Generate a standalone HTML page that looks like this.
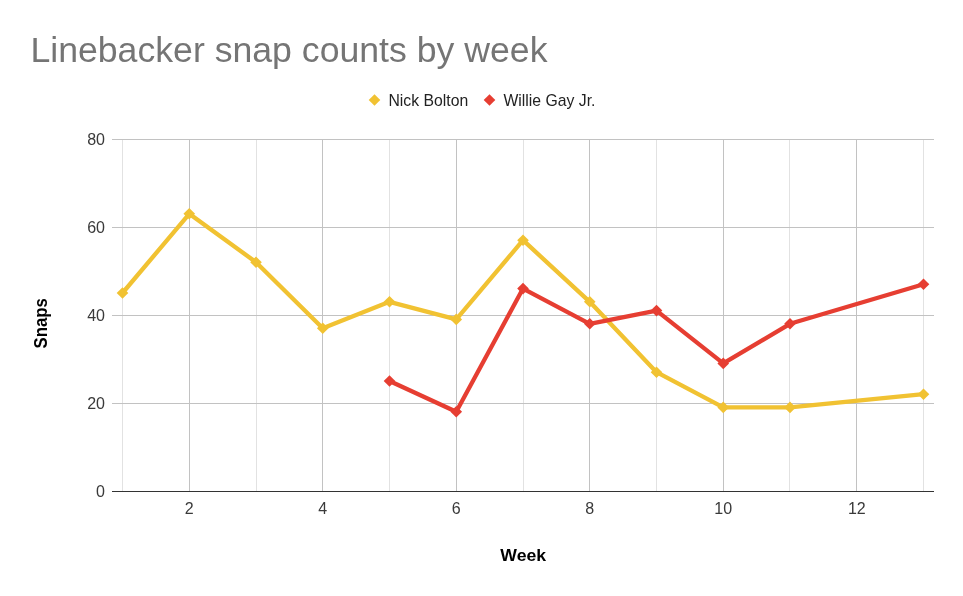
<!DOCTYPE html>
<html><head><meta charset="utf-8"><title>Linebacker snap counts by week</title>
<style>
html,body{margin:0;padding:0;background:#fff;}
svg{display:block;font-family:"Liberation Sans",Arial,sans-serif;}
</style></head><body>
<svg width="963" height="596" viewBox="0 0 963 596">
<rect width="963" height="596" fill="#ffffff"/>
<g shape-rendering="crispEdges">
<rect x="122" y="139" width="1" height="352" fill="#e2e2e2"/>
<rect x="189" y="139" width="1" height="352" fill="#c2c2c2"/>
<rect x="256" y="139" width="1" height="352" fill="#e2e2e2"/>
<rect x="322" y="139" width="1" height="352" fill="#c2c2c2"/>
<rect x="389" y="139" width="1" height="352" fill="#e2e2e2"/>
<rect x="456" y="139" width="1" height="352" fill="#c2c2c2"/>
<rect x="523" y="139" width="1" height="352" fill="#e2e2e2"/>
<rect x="589" y="139" width="1" height="352" fill="#c2c2c2"/>
<rect x="656" y="139" width="1" height="352" fill="#e2e2e2"/>
<rect x="723" y="139" width="1" height="352" fill="#c2c2c2"/>
<rect x="789" y="139" width="1" height="352" fill="#e2e2e2"/>
<rect x="856" y="139" width="1" height="352" fill="#c2c2c2"/>
<rect x="923" y="139" width="1" height="352" fill="#e2e2e2"/>
<rect x="112" y="403" width="822" height="1" fill="#c2c2c2"/>
<rect x="112" y="315" width="822" height="1" fill="#c2c2c2"/>
<rect x="112" y="227" width="822" height="1" fill="#c2c2c2"/>
<rect x="112" y="139" width="822" height="1" fill="#c2c2c2"/>
<rect x="112" y="491" width="822" height="1" fill="#333333"/>
</g>
<polyline points="122.50,293.00 189.25,213.80 256.00,262.20 322.75,328.20 389.50,301.80 456.25,319.40 523.00,240.20 589.75,301.80 656.50,372.20 723.25,407.40 790.00,407.40 923.50,394.20" fill="none" stroke="#f1c232" stroke-width="4.3" stroke-linejoin="round" stroke-linecap="round"/>
<path d="M122.50,287.20L128.30,293.00L122.50,298.80L116.70,293.00Z" fill="#f1c232"/>
<path d="M189.25,208.00L195.05,213.80L189.25,219.60L183.45,213.80Z" fill="#f1c232"/>
<path d="M256.00,256.40L261.80,262.20L256.00,268.00L250.20,262.20Z" fill="#f1c232"/>
<path d="M322.75,322.40L328.55,328.20L322.75,334.00L316.95,328.20Z" fill="#f1c232"/>
<path d="M389.50,296.00L395.30,301.80L389.50,307.60L383.70,301.80Z" fill="#f1c232"/>
<path d="M456.25,313.60L462.05,319.40L456.25,325.20L450.45,319.40Z" fill="#f1c232"/>
<path d="M523.00,234.40L528.80,240.20L523.00,246.00L517.20,240.20Z" fill="#f1c232"/>
<path d="M589.75,296.00L595.55,301.80L589.75,307.60L583.95,301.80Z" fill="#f1c232"/>
<path d="M656.50,366.40L662.30,372.20L656.50,378.00L650.70,372.20Z" fill="#f1c232"/>
<path d="M723.25,401.60L729.05,407.40L723.25,413.20L717.45,407.40Z" fill="#f1c232"/>
<path d="M790.00,401.60L795.80,407.40L790.00,413.20L784.20,407.40Z" fill="#f1c232"/>
<path d="M923.50,388.40L929.30,394.20L923.50,400.00L917.70,394.20Z" fill="#f1c232"/>
<polyline points="389.50,381.00 456.25,411.80 523.00,288.60 589.75,323.80 656.50,310.60 723.25,363.40 790.00,323.80 923.50,284.20" fill="none" stroke="#e63e32" stroke-width="4.3" stroke-linejoin="round" stroke-linecap="round"/>
<path d="M389.50,375.20L395.30,381.00L389.50,386.80L383.70,381.00Z" fill="#e63e32"/>
<path d="M456.25,406.00L462.05,411.80L456.25,417.60L450.45,411.80Z" fill="#e63e32"/>
<path d="M523.00,282.80L528.80,288.60L523.00,294.40L517.20,288.60Z" fill="#e63e32"/>
<path d="M589.75,318.00L595.55,323.80L589.75,329.60L583.95,323.80Z" fill="#e63e32"/>
<path d="M656.50,304.80L662.30,310.60L656.50,316.40L650.70,310.60Z" fill="#e63e32"/>
<path d="M723.25,357.60L729.05,363.40L723.25,369.20L717.45,363.40Z" fill="#e63e32"/>
<path d="M790.00,318.00L795.80,323.80L790.00,329.60L784.20,323.80Z" fill="#e63e32"/>
<path d="M923.50,278.40L929.30,284.20L923.50,290.00L917.70,284.20Z" fill="#e63e32"/>
<text x="30.4" y="62.3" font-size="35.65" fill="#757575">Linebacker snap counts by week</text>
<path d="M374.5,94.2L380.3,100L374.5,105.8L368.7,100Z" fill="#f1c232"/>
<text x="388.5" y="105.5" font-size="15.75" fill="#222222">Nick Bolton</text>
<path d="M489.5,94.2L495.3,100L489.5,105.8L483.7,100Z" fill="#e63e32"/>
<text x="503.5" y="105.5" font-size="15.75" fill="#222222">Willie Gay Jr.</text>
<text x="105" y="496.5" font-size="16.05" fill="#3a3a3a" text-anchor="end">0</text>
<text x="105" y="408.5" font-size="16.05" fill="#3a3a3a" text-anchor="end">20</text>
<text x="105" y="320.5" font-size="16.05" fill="#3a3a3a" text-anchor="end">40</text>
<text x="105" y="232.5" font-size="16.05" fill="#3a3a3a" text-anchor="end">60</text>
<text x="105" y="144.5" font-size="16.05" fill="#3a3a3a" text-anchor="end">80</text>
<text x="189.2" y="513.7" font-size="16.05" fill="#3a3a3a" text-anchor="middle">2</text>
<text x="322.8" y="513.7" font-size="16.05" fill="#3a3a3a" text-anchor="middle">4</text>
<text x="456.2" y="513.7" font-size="16.05" fill="#3a3a3a" text-anchor="middle">6</text>
<text x="589.8" y="513.7" font-size="16.05" fill="#3a3a3a" text-anchor="middle">8</text>
<text x="723.2" y="513.7" font-size="16.05" fill="#3a3a3a" text-anchor="middle">10</text>
<text x="856.8" y="513.7" font-size="16.05" fill="#3a3a3a" text-anchor="middle">12</text>
<text transform="translate(523.2,561.2) scale(1,0.985)" font-size="17.66" font-weight="bold" fill="#000000" text-anchor="middle">Week</text>
<text transform="translate(47.2,323.3) rotate(-90) scale(0.948,1)" font-size="17.66" font-weight="bold" fill="#000000" text-anchor="middle">Snaps</text>
</svg></body></html>
